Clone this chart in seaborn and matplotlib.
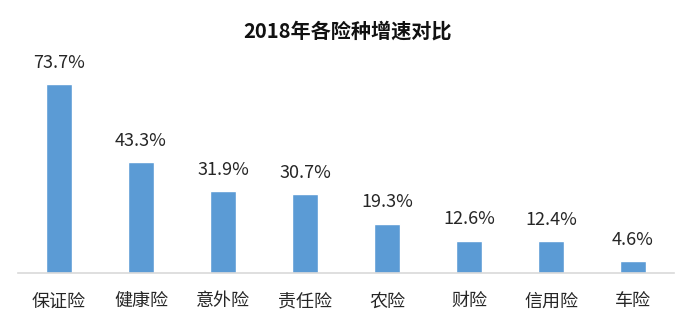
import matplotlib
matplotlib.use("Agg")
import matplotlib.pyplot as plt
import seaborn as sns
import pandas as pd

categories = ["保证险", "健康险", "意外险", "责任险", "农险", "财险", "信用险", "车险"]
values = [73.7, 43.3, 31.9, 30.7, 19.3, 12.6, 12.4, 4.6]
labels = ["73.7%", "43.3%", "31.9%", "30.7%", "19.3%", "12.6%", "12.4%", "4.6%"]
title = "2018年各险种增速对比"

sns.set_style("white")
plt.rcParams['font.family'] = ['Noto Sans CJK SC', 'DejaVu Sans']

df = pd.DataFrame({"cat": categories, "val": values})

fig = plt.figure(figsize=(6.96, 3.25), dpi=100)
ax = fig.add_axes([18/696, 52/325, (674-18)/696, (273-50)/325])
sns.barplot(data=df, x="cat", y="val", color="#5B9BD5", saturation=1, width=0.31, ax=ax)

ax.set_ylim(0, 87)
ax.set_xlim(-0.5, len(categories) - 0.5)
for s in ["top", "right", "left"]:
    ax.spines[s].set_visible(False)
ax.spines["bottom"].set_color("#D9D9D9")
ax.spines["bottom"].set_linewidth(1.2)
ax.set_yticks([])
ax.set_xlabel("")
ax.set_ylabel("")
ax.tick_params(axis="x", length=0, pad=14, labelsize=13, labelcolor="#262626")

for i, (v, lab) in enumerate(zip(values, labels)):
    ax.annotate(lab, (i, v), xytext=(0, 9), textcoords="offset points",
                ha="center", va="bottom", fontsize=13, color="#262626")

fig.text(0.5, 1 - 31/325, title, ha="center", va="center", fontsize=14.5,
         fontweight="bold", color="#111111")

fig.savefig("out.png", dpi=100)
